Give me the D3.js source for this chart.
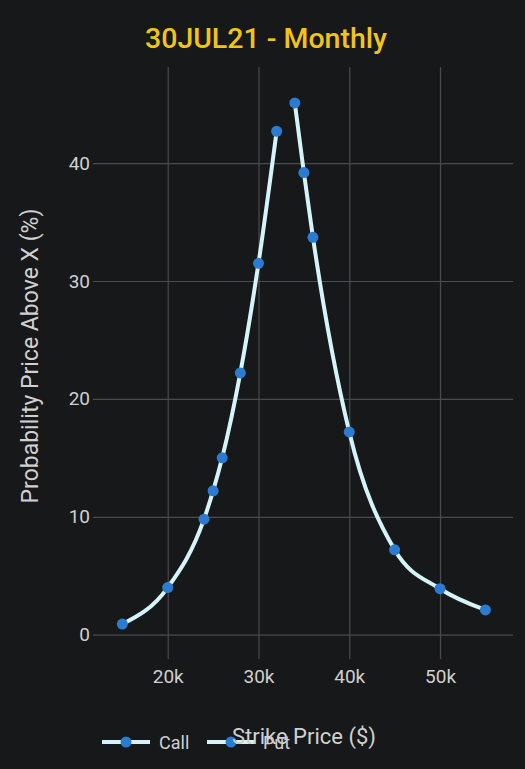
<!DOCTYPE html>
<html><head><meta charset="utf-8">
<script src="https://cdn.jsdelivr.net/npm/d3@7"></script>
<style>
html,body{margin:0;padding:0;background:#17181a;}
svg{display:block;font-family:Roboto,"Noto Sans",sans-serif;}
</style></head>
<body>
<svg id="c" width="525" height="769"></svg>
<script>
const title = "30JUL21 - Monthly";
const xLabel = "Strike Price ($)";
const yLabel = "Probability Price Above X (%)";
const callStrikes = [15000, 20000, 24000, 25000, 26000, 28000, 30000, 32000];
const callValues  = [0.9, 4.0, 9.8, 12.2, 15.0, 22.2, 31.5, 42.7];
const putStrikes  = [34000, 35000, 36000, 40000, 45000, 50000, 55000];
const putValues   = [45.1, 39.2, 33.7, 17.2, 7.2, 3.9, 2.1];
const xTicks = [20000, 30000, 40000, 50000];
const xTickLabels = ["20k", "30k", "40k", "50k"];
const yTicks = [0, 10, 20, 30, 40];
const seriesNames = ["Call", "Put"];

const lineColor = "#d4f4fa", dotColor = "#2b7bd0", gridColor = "#4a4b4d", textColor = "#d0d0d0";
const svg = d3.select("#c");

const x = d3.scaleLinear().domain([12540, 58040]).range([100, 513]);
const y = d3.scaleLinear().domain([-2.06, 48.15]).range([659, 67]);

const gx = svg.append("g").attr("transform", "translate(0,659)")
  .call(d3.axisBottom(x).tickValues(xTicks).tickFormat((d,i)=>xTickLabels[i]).tickSize(-592).tickPadding(11));
const gy = svg.append("g").attr("transform", "translate(100,0)")
  .call(d3.axisLeft(y).tickValues(yTicks).tickSize(7).tickPadding(3));
gy.selectAll(".tick line").attr("x2", 413).attr("x1", -7);
[gx, gy].forEach(g => {
  g.select(".domain").remove();
  g.selectAll(".tick line").attr("stroke", gridColor).attr("stroke-width", 1.2);
  g.selectAll(".tick text").attr("fill", textColor).attr("font-size", 19).attr("font-family", "Roboto, sans-serif");
});

const line = d3.line().x(d => x(d[0])).y(d => y(d[1])).curve(d3.curveMonotoneX);
const series = [
  d3.zip(callStrikes, callValues),
  d3.zip(putStrikes, putValues)
];
series.forEach(s => {
  svg.append("path").datum(s).attr("d", line).attr("fill", "none")
    .attr("stroke", lineColor).attr("stroke-width", 4).attr("stroke-linecap", "round");
});
series.forEach(s => {
  svg.append("g").selectAll("circle").data(s).join("circle")
    .attr("cx", d => x(d[0])).attr("cy", d => y(d[1])).attr("r", 5.5).attr("fill", dotColor);
});

svg.append("text").attr("x", 266).attr("y", 48).attr("text-anchor", "middle")
  .attr("fill", "#f2c417").attr("font-size", 28.5).attr("font-weight", 500).text(title);

svg.append("text").attr("transform", "translate(38,356) rotate(-90)").attr("text-anchor", "middle")
  .attr("fill", textColor).attr("font-size", 23).text(yLabel);

const lg = [{x0: 102, tx: 159}, {x0: 207, tx: 263}];
lg.forEach((l, i) => {
  svg.append("line").attr("x1", l.x0).attr("x2", l.x0 + 48).attr("y1", 742).attr("y2", 742)
    .attr("stroke", lineColor).attr("stroke-width", 4);
  svg.append("circle").attr("cx", l.x0 + 24).attr("cy", 742).attr("r", 5.5).attr("fill", dotColor);
  svg.append("text").attr("x", l.tx).attr("y", 749).attr("fill", textColor).attr("font-size", 18).text(seriesNames[i]);
});

svg.append("text").attr("x", 304).attr("y", 744).attr("text-anchor", "middle")
  .attr("fill", textColor).attr("font-size", 22).text(xLabel);
</script>
</body></html>
